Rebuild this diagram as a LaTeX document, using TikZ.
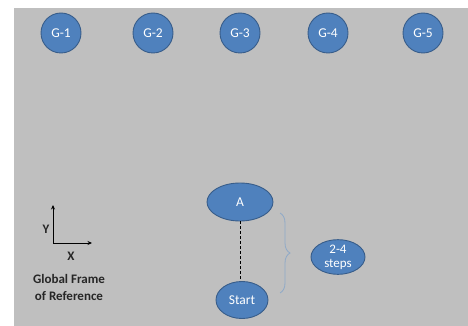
\documentclass[tikz,border=0pt]{standalone}
\usepackage{fontspec}
\setmainfont{Carlito}
\usetikzlibrary{shapes.geometric,arrows.meta,decorations.pathreplacing}
\definecolor{bg}{HTML}{BFBFBF}
\definecolor{nodefill}{HTML}{4F81BD}
\definecolor{nodeedge}{HTML}{385D8A}
\definecolor{bracecol}{HTML}{8EA9C8}
\tikzset{
  gcirc/.style={circle, draw=nodeedge, line width=0.9pt, fill=nodefill, text=white, minimum size=40pt, inner sep=0pt, font=\fontsize{13.5}{14}\selectfont},
  oval/.style={ellipse, draw=nodeedge, line width=0.9pt, fill=nodefill, text=white, inner sep=0pt, font=\fontsize{13.5}{14}\selectfont, align=center},
  lbl/.style={font=\fontsize{13}{17}\selectfont\bfseries, text=black!85, align=center, inner sep=0pt}
}
\begin{document}
\begin{tikzpicture}[x=1pt,y=-1pt]
\useasboundingbox (0,0) rectangle (468,326);
\fill[white] (0,0) rectangle (468,326);
\fill[bg] (14,8) rectangle (468,326);
\node[gcirc] (g1) at (61,33) {G-1};
\node[gcirc] (g2) at (153,33) {G-2};
\node[gcirc] (g3) at (240,33) {G-3};
\node[gcirc] (g4) at (328,33) {G-4};
\node[gcirc] (g5) at (423,33) {G-5};
\node[oval, minimum width=66pt, minimum height=38pt] (a) at (240,202) {A};
\node[oval, minimum width=52pt, minimum height=37pt] (start) at (242,300) {Start};
\node[oval, minimum width=54pt, minimum height=34pt, font=\fontsize{13}{14}\selectfont] (steps) at (338,257) {2-4\\steps};
\draw[black, line width=1pt, dashed, dash pattern=on 3pt off 2pt] (a.south -| 240,0) -- (start.north -| 240,0);
\coordinate (btop) at (280,213);
\coordinate (bbot) at (280,293);
\draw[bracecol, line width=0.8pt, decorate, decoration={brace, amplitude=10pt, aspect=0.5}] (btop) -- (bbot);
\coordinate (o) at (53,243);
\coordinate (ytip) at (53,205);
\coordinate (xtip) at (92,243);
\draw[black, line width=1pt, -{Stealth[length=4.5pt,width=4pt]}] (o) -- (ytip);
\draw[black, line width=1pt, -{Stealth[length=4.5pt,width=4pt]}] (o) -- (xtip);
\node[lbl] (ylab) at (46,229) {Y};
\node[lbl] (xlab) at (71,256) {X};
\node[lbl] (gf) at (69,287) {Global Frame\\of Reference};
\end{tikzpicture}
\end{document}
